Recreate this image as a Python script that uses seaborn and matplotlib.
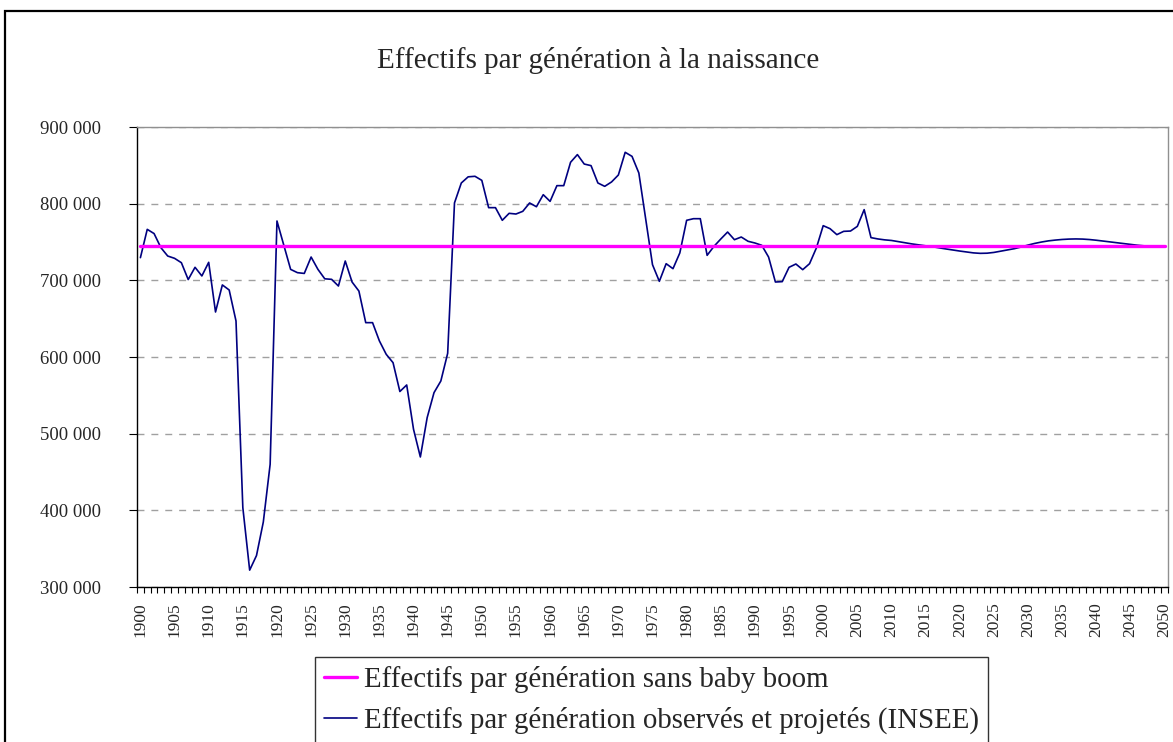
import matplotlib
matplotlib.use("Agg")
import matplotlib.pyplot as plt
import matplotlib.ticker as mticker
from matplotlib.patches import Rectangle
import seaborn as sns
import pandas as pd

years = list(range(1900, 2051))

# effectifs observés et projetés (milliers)
observes = [
    729.6, 766.5, 761.0, 742.6, 731.7, 728.7, 723.0, 701.0, 717.0, 705.7,
    723.5, 658.7, 694.0, 687.4, 647.0, 403.5, 322.0, 341.0, 384.8, 460.0,
    777.4, 745.7, 714.3, 710.0, 709.0, 730.4, 714.3, 702.0, 701.3, 692.6,
    725.2, 697.8, 686.0, 644.8, 644.8, 621.0, 603.5, 592.6, 555.0, 563.5,
    505.7, 469.6, 521.0, 553.5, 568.7, 604.8, 801.0, 827.0, 835.0, 835.7,
    830.4, 794.8, 794.8, 778.3, 787.4, 786.5, 790.0, 800.9, 796.0, 811.7,
    803.0, 823.5, 823.5, 854.0, 864.0, 851.7, 849.6, 827.0, 822.6, 828.3,
    837.4, 867.0, 861.7, 840.0, 780.0, 720.4, 698.7, 721.7, 715.2, 735.7,
    778.3, 780.4, 780.4, 732.6, 744.3, 753.9, 763.0, 753.0, 756.5, 750.9,
    748.7, 745.7, 730.4, 697.8, 698.3, 717.0, 721.3, 713.9, 721.7, 742.2,
    771.3, 767.4, 759.6, 763.9, 764.3, 770.4, 792.2, 755.7, 754.0, 752.8,
    752.0, 750.5, 749.0, 747.5, 746.3, 745.2, 743.8, 742.3, 740.9, 739.5,
    738.2, 737.0, 735.8, 735.2, 735.4, 736.4, 738.0, 739.6, 741.3, 743.5,
    746.0, 748.2, 750.0, 751.5, 752.5, 753.3, 753.8, 754.0, 753.8, 753.2,
    752.3, 751.2, 750.0, 749.0, 747.9, 746.8, 745.8, 745.0, 744.5, 744.2,
    744.0,
]
sans_baby_boom = [745.0] * len(years)

label_sans = "Effectifs par génération sans baby boom"
label_obs = "Effectifs par génération observés et projetés (INSEE)"

df = pd.DataFrame({
    "annee": years,
    "sans": [v * 1000 for v in sans_baby_boom],
    "obs": [v * 1000 for v in observes],
})

sns.set_style("white")
plt.rcParams["font.family"] = ["Liberation Serif", "DejaVu Serif"]

fig = plt.figure(figsize=(11.73, 7.42), dpi=100)
ax = fig.add_axes([137 / 1173, 155 / 742, 1031 / 1173, 460 / 742])

sns.lineplot(data=df, x="annee", y="obs", ax=ax, color="#000080",
             linewidth=1.2, label=label_obs, zorder=3)
sns.lineplot(data=df, x="annee", y="sans", ax=ax, color="#ff00ff",
             linewidth=2.4, label=label_sans, zorder=4)

ax.set_xlim(1899.5, 2050.5)
ax.set_ylim(300000, 900000)
ax.set_xlabel("")
ax.set_ylabel("")

ax.xaxis.set_major_locator(mticker.MultipleLocator(5))
ax.xaxis.set_minor_locator(mticker.FixedLocator([y + 0.5 for y in range(1899, 2051)]))
ax.tick_params(axis="x", which="major", length=0, labelsize=12.5,
               labelrotation=90, pad=11)
ax.tick_params(axis="x", which="minor", length=4, width=0.8, direction="out",
               color="black", bottom=True)
ax.yaxis.set_major_locator(mticker.MultipleLocator(100000))
ax.yaxis.set_major_formatter(
    mticker.FuncFormatter(lambda v, p: f"{int(v):,}".replace(",", " ")))
ax.tick_params(axis="y", length=6, width=0.8, direction="out", color="black",
               left=True, labelsize=13.5, pad=20)

ax.yaxis.grid(True, color="#a0a0a0", linestyle=(0, (5, 5)), linewidth=1)
ax.xaxis.grid(False)

ax.spines["left"].set_color("black")
ax.spines["bottom"].set_color("black")
ax.spines["top"].set_color("#909090")
ax.spines["right"].set_color("#909090")
for s in ax.spines.values():
    s.set_linewidth(1)

ax.get_legend().remove()
handles, labels = ax.get_legend_handles_labels()
order = [labels.index(label_sans), labels.index(label_obs)]
leg = fig.legend([handles[i] for i in order], [labels[i] for i in order],
                 loc="upper left", bbox_to_anchor=(315 / 1173, 1 - 657 / 742),
                 frameon=True, fancybox=False, fontsize=20.8, handlelength=1.15,
                 handletextpad=0.25, borderpad=0.3, labelspacing=0.5,
                 borderaxespad=0)
leg.get_frame().set_edgecolor("black")
leg.get_frame().set_linewidth(1)

fig.text(598 / 1173, 1 - 60 / 742, "Effectifs par génération à la naissance",
         ha="center", va="center", fontsize=21)

fig.patches.append(Rectangle((5 / 1173, -0.1), 1.2, 1.1 - 11 / 742,
                             transform=fig.transFigure, fill=False,
                             edgecolor="black", linewidth=1.6))

fig.savefig("out.png", dpi=100)
